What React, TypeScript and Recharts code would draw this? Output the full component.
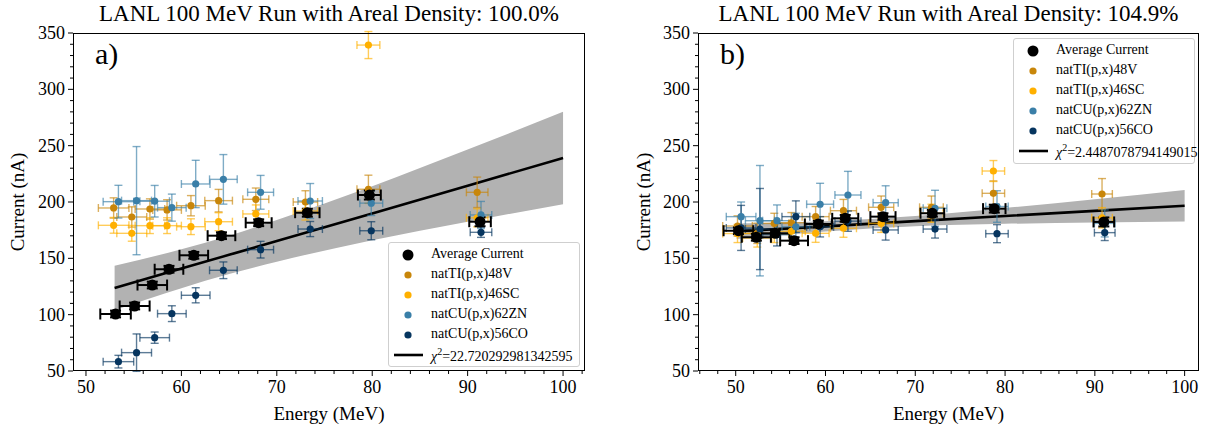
import React from "react"
import { ComposedChart, Scatter, Line, Area, XAxis, YAxis, ErrorBar } from "recharts"

const SERIF = "'Liberation Serif', 'Times New Roman', serif"

const C_AVG = "#000000"
const C_V48 = "#c8860a"
const C_SC46 = "#ffb000"
const C_ZN62 = "#3a7fa8"
const C_CO56 = "#06355f"

const Y_TICKS = [50, 60, 70, 80, 90, 100, 110, 120, 130, 140, 150, 160, 170, 180, 190, 200, 210, 220, 230, 240, 250, 260, 270, 280, 290, 300, 310, 320, 330, 340, 350]
const XA_TICKS = [50, 52, 54, 56, 58, 60, 62, 64, 66, 68, 70, 72, 74, 76, 78, 80, 82, 84, 86, 88, 90, 92, 94, 96, 98, 100, 102]
const XB_TICKS = [46, 48, 50, 52, 54, 56, 58, 60, 62, 64, 66, 68, 70, 72, 74, 76, 78, 80, 82, 84, 86, 88, 90, 92, 94, 96, 98, 100]

// ---- panel a) 100.0% ----
const a_avgE = [53.1, 55.1, 56.95, 58.7, 61.3, 64.2, 68.1, 73.2, 79.7, 91.3]
const a_avgI = [100.6, 107.7, 126.3, 140.3, 152.7, 170.1, 181.6, 190.5, 206.2, 182.5]
const a_avgDI = [3, 3, 3, 3, 3, 3, 3, 3.5, 4, 4]
const a_tiE = [52.9, 54.8, 56.7, 58.5, 61.0, 63.9, 67.8, 73.0, 79.6, 91.0]
const a_cuE = [53.4, 55.3, 57.2, 59.0, 61.5, 64.4, 68.3, 73.5, 79.9, 91.4]
const a_dE = [1.6, 1.57, 1.55, 1.5, 1.5, 1.45, 1.36, 1.28, 1.2, 1.13]
const a_v48I = [194.7, 186.7, 193.8, 193.0, 196.7, 201.2, 202.4, 200.0, 211.3, 208.6]
const a_v48DI = [9, 9, 9, 9, 9, 10, 10, 10, 12.5, 13.5]
const a_sc46I = [179.3, 172.2, 179.0, 179.0, 178.1, 182.5, 189.4, 192.0, 339.3, 186.0]
const a_sc46DI = [7, 7, 7, 7, 7, 8, 8, 8, 12, 8]
const a_zn62I = [200.3, 201.2, 200.7, 195.0, 216.0, 220.1, 208.6, 200.9, 199.0, 188.5]
const a_zn62DI = [14.5, 48, 14, 12, 21, 22, 15, 15.5, 11, 12]
const a_co56I = [58.3, 66.3, 79.6, 100.9, 117.2, 139.4, 157.7, 176.0, 174.5, 173.1]
const a_co56DI = [5.6, 16.6, 5, 7, 6.7, 7.4, 7.4, 6.7, 8, 4.5]
const a_fitE = [53, 60, 65, 70, 80, 90, 100]
const a_fit = [123.7, 140.9, 153.1, 165.4, 189.9, 214.5, 239.0]
const a_lo = [104.0, 123.5, 136.0, 147.0, 166.0, 182.5, 198.0]
const a_hi = [143.5, 158.0, 170.0, 184.0, 214.0, 246.5, 280.0]

// ---- panel b) 104.9% ----
const b_avgE = [50.3, 52.3, 54.4, 56.5, 59.2, 62.2, 66.4, 71.9, 78.8, 91.0]
const b_avgI = [174.5, 168.7, 172.2, 165.7, 180.5, 185.5, 187.0, 190.0, 194.1, 182.3]
const b_avgDI = [3, 3, 3, 3, 3, 3, 3, 3, 3.5, 4]
const b_tiE = [50.2, 52.4, 54.3, 56.2, 58.9, 62.0, 66.2, 71.8, 78.7, 90.8]
const b_cuE = [50.6, 52.7, 54.6, 56.7, 59.4, 62.5, 66.7, 72.2, 79.1, 91.1]
const b_dE = [1.65, 1.62, 1.6, 1.55, 1.5, 1.45, 1.4, 1.32, 1.25, 1.15]
const b_v48I = [178.7, 172.2, 181.0, 181.6, 187.0, 192.3, 195.3, 195.3, 207.7, 207.1]
const b_v48DI = [9, 9, 9, 9, 9, 10, 10, 10, 11, 13.7]
const b_sc46I = [172.0, 168.0, 172.0, 174.0, 172.2, 176.7, 181.0, 190.0, 227.5, 186.0]
const b_sc46DI = [8, 8, 8, 8, 8, 8, 8, 8, 9.3, 9]
const b_zn62I = [187.0, 183.4, 183.4, 178.0, 198.0, 206.2, 199.4, 194.4, 196.0, 181.0]
const b_zn62DI = [13, 49, 14, 12, 18.6, 21, 15, 16, 14, 12]
const b_co56I = [177.0, 176.0, 171.0, 187.0, 178.0, 183.0, 175.2, 176.0, 171.9, 172.8]
const b_co56DI = [20, 36, 10, 14, 9, 9, 9, 8, 8, 7]
const b_fitE = [50.1, 60, 70, 80, 90, 100]
const b_fit = [174.0, 178.4, 183.0, 187.6, 192.1, 196.7]
const b_lo = [167.1, 173.8, 178.5, 180.6, 181.7, 182.7]
const b_hi = [180.9, 183.0, 187.5, 194.6, 202.5, 210.7]

const pts = (E: number[], I: number[], dE: number[], dI: number[]) =>
  E.map((e, k) => ({ e, i: I[k], ex: dE[k], ey: dI[k] }))

const band = (E: number[], fit: number[], lo: number[], hi: number[]) =>
  E.map((e, k) => ({ e, fit: fit[k], band: [lo[k], hi[k]] }))

const XTick = ({ x, y, payload }: any) => {
  const v = payload.value
  const major = v % 10 === 0
  return (
    <g>
      <line x1={x} x2={x} y1={y} y2={y + (major ? 5 : 3)} stroke="#000" strokeWidth={1} />
      {major && (
        <text x={x} y={y + 22} textAnchor="middle" fontFamily={SERIF} fontSize={18} fill="#000">
          {v}
        </text>
      )}
    </g>
  )
}

const YTick = ({ x, y, payload }: any) => {
  const v = payload.value
  const major = v % 50 === 0
  return (
    <g>
      <line x1={x - (major ? 5 : 3)} x2={x} y1={y} y2={y} stroke="#000" strokeWidth={1} />
      {major && (
        <text x={x - 8} y={y + 6} textAnchor="end" fontFamily={SERIF} fontSize={18} fill="#000">
          {v}
        </text>
      )}
    </g>
  )
}

function seriesList(p: any) {
  return [
    { name: "natTI(p,x)48V", color: C_V48, data: pts(p.tiE, p.v48I, p.dE, p.v48DI) },
    { name: "natTI(p,x)46SC", color: C_SC46, data: pts(p.tiE, p.sc46I, p.dE, p.sc46DI) },
    { name: "natCU(p,x)62ZN", color: C_ZN62, data: pts(p.cuE, p.zn62I, p.dE, p.zn62DI) },
    { name: "natCU(p,x)56CO", color: C_CO56, data: pts(p.cuE, p.co56I, p.dE, p.co56DI) },
  ]
}

function Panel(p: any) {
  const series = seriesList(p)
  const avg = pts(p.avgE, p.avgI, p.dE, p.avgDI)
  const fitData = band(p.fitE, p.fit, p.lo, p.hi)
  return (
    <div style={{ position: "absolute", left: p.left, top: 0, width: p.width, height: 431 }}>
      <ComposedChart
        width={p.width}
        height={431}
        margin={{ top: 33, right: p.mr, bottom: 0, left: p.ml }}
      >
        <XAxis
          type="number"
          dataKey="e"
          domain={p.xDomain}
          allowDataOverflow
          ticks={p.xTicks}
          interval={0}
          tickSize={0}
          tickMargin={0}
          tickLine={false}
          axisLine={false}
          height={60}
          tick={<XTick />}
        />
        <YAxis
          type="number"
          domain={[50, 350]}
          allowDataOverflow
          ticks={Y_TICKS}
          interval={0}
          tickSize={0}
          tickMargin={0}
          tickLine={false}
          axisLine={false}
          width={60}
          tick={<YTick />}
        />
        <Area
          data={fitData}
          dataKey="band"
          type="monotone"
          fill="#b2b2b2"
          fillOpacity={1}
          stroke="none"
          isAnimationActive={false}
        />
        <Line
          data={fitData}
          dataKey="fit"
          type="linear"
          stroke="#000"
          strokeWidth={2.6}
          dot={false}
          isAnimationActive={false}
        />
        {series.map((s) => (
          <Scatter
            key={s.name}
            name={s.name}
            data={s.data}
            dataKey="i"
            fill={s.color}
            isAnimationActive={false}
            shape={(d: any) => <circle cx={d.cx} cy={d.cy} r={3.6} fill={s.color} />}
          >
            <ErrorBar dataKey="ex" direction="x" width={4} stroke={s.color} strokeOpacity={0.65} strokeWidth={1.4} />
            <ErrorBar dataKey="ey" direction="y" width={4} stroke={s.color} strokeOpacity={0.65} strokeWidth={1.4} />
          </Scatter>
        ))}
        <Scatter
          name="Average Current"
          data={avg}
          dataKey="i"
          fill={C_AVG}
          isAnimationActive={false}
          shape={(d: any) => <circle cx={d.cx} cy={d.cy} r={5.5} fill={C_AVG} />}
        >
          <ErrorBar dataKey="ex" direction="x" width={5.5} stroke={C_AVG} strokeWidth={2} />
          <ErrorBar dataKey="ey" direction="y" width={5.5} stroke={C_AVG} strokeWidth={2} />
        </Scatter>
      </ComposedChart>
    </div>
  )
}

function Legend({ x, y, w, h, chi }: any) {
  const rows = [
    { label: "Average Current", color: C_AVG, r: 5.5 },
    { label: "natTI(p,x)48V", color: C_V48, r: 3.6 },
    { label: "natTI(p,x)46SC", color: C_SC46, r: 3.6 },
    { label: "natCU(p,x)62ZN", color: C_ZN62, r: 3.6 },
    { label: "natCU(p,x)56CO", color: C_CO56, r: 3.6 },
  ]
  return (
    <div
      style={{
        position: "absolute",
        left: x,
        top: y,
        width: w,
        height: h,
        border: "1px solid #cfcfcf",
        borderRadius: 3,
        background: "rgba(255,255,255,0.85)",
        fontFamily: SERIF,
        fontSize: 14,
        color: "#000",
      }}
    >
      {rows.map((r, k) => (
        <div key={r.label} style={{ position: "absolute", left: 0, top: 2 + k * 20, height: 20, width: w }}>
          <svg width={34} height={20} style={{ position: "absolute", left: 2, top: 0 }}>
            <circle cx={17} cy={10} r={r.r} fill={r.color} />
          </svg>
          <span style={{ position: "absolute", left: 42, top: 1, whiteSpace: "nowrap" }}>{r.label}</span>
        </div>
      ))}
      <div style={{ position: "absolute", left: 0, top: 2 + 5 * 20, height: 20, width: w }}>
        <svg width={34} height={20} style={{ position: "absolute", left: 2, top: 0 }}>
          <line x1={3} x2={32} y1={10} y2={10} stroke="#000" strokeWidth={2.6} />
        </svg>
        <span style={{ position: "absolute", left: 42, top: 1, whiteSpace: "nowrap" }}>
          <i>χ</i>
          <sup style={{ fontSize: 10 }}>2</sup>={chi}
        </span>
      </div>
    </div>
  )
}

function Frame({ x1, x2, title, tag }: any) {
  const cx = (x1 + x2) / 2
  return (
    <>
      <div
        style={{
          position: "absolute",
          left: x1,
          top: 33,
          width: x2 - x1,
          height: 371 - 33,
          border: "1px solid #000",
          boxSizing: "border-box",
          pointerEvents: "none",
        }}
      />
      <div
        style={{
          position: "absolute",
          left: cx - 300,
          width: 600,
          top: 1,
          textAlign: "center",
          fontFamily: SERIF,
          fontSize: 23,
          lineHeight: "26px",
        }}
      >
        {title}
      </div>
      <div
        style={{
          position: "absolute",
          left: cx - 200,
          width: 400,
          top: 402,
          textAlign: "center",
          fontFamily: SERIF,
          fontSize: 19,
          lineHeight: "24px",
        }}
      >
        Energy (MeV)
      </div>
      <div
        style={{
          position: "absolute",
          left: x1 + 22,
          top: 36,
          fontFamily: SERIF,
          fontSize: 30,
          lineHeight: "36px",
        }}
      >
        {tag}
      </div>
    </>
  )
}

function YTitle({ cx }: any) {
  return (
    <div
      style={{
        position: "absolute",
        left: cx - 100,
        top: 202 - 12,
        width: 200,
        height: 24,
        textAlign: "center",
        fontFamily: SERIF,
        fontSize: 19,
        lineHeight: "24px",
        transform: "rotate(-90deg)",
      }}
    >
      Current (nA)
    </div>
  )
}

export default function App() {
  return (
    <div style={{ position: "absolute", left: 0, top: 0, width: 1211, height: 431, background: "#fff" }}>
      <Panel
        left={0}
        width={600}
        ml={13}
        mr={15}
        xDomain={[48.64, 102.3]}
        xTicks={XA_TICKS}
        avgE={a_avgE}
        avgI={a_avgI}
        avgDI={a_avgDI}
        tiE={a_tiE}
        cuE={a_cuE}
        dE={a_dE}
        v48I={a_v48I}
        v48DI={a_v48DI}
        sc46I={a_sc46I}
        sc46DI={a_sc46DI}
        zn62I={a_zn62I}
        zn62DI={a_zn62DI}
        co56I={a_co56I}
        co56DI={a_co56DI}
        fitE={a_fitE}
        fit={a_fit}
        lo={a_lo}
        hi={a_hi}
      />
      <Panel
        left={600}
        width={611}
        ml={38}
        mr={12}
        xDomain={[45.8, 101.6]}
        xTicks={XB_TICKS}
        avgE={b_avgE}
        avgI={b_avgI}
        avgDI={b_avgDI}
        tiE={b_tiE}
        cuE={b_cuE}
        dE={b_dE}
        v48I={b_v48I}
        v48DI={b_v48DI}
        sc46I={b_sc46I}
        sc46DI={b_sc46DI}
        zn62I={b_zn62I}
        zn62DI={b_zn62DI}
        co56I={b_co56I}
        co56DI={b_co56DI}
        fitE={b_fitE}
        fit={b_fit}
        lo={b_lo}
        hi={b_hi}
      />
      <Frame x1={73} x2={585} title="LANL 100 MeV Run with Areal Density: 100.0%" tag="a)" />
      <Frame x1={698} x2={1199} title="LANL 100 MeV Run with Areal Density: 104.9%" tag="b)" />
      <YTitle cx={18} />
      <YTitle cx={644} />
      <Legend x={388} y={242} w={190} h={123} chi="22.720292981342595" />
      <Legend x={1013} y={38} w={180} h={124} chi="2.4487078794149015" />
    </div>
  )
}
